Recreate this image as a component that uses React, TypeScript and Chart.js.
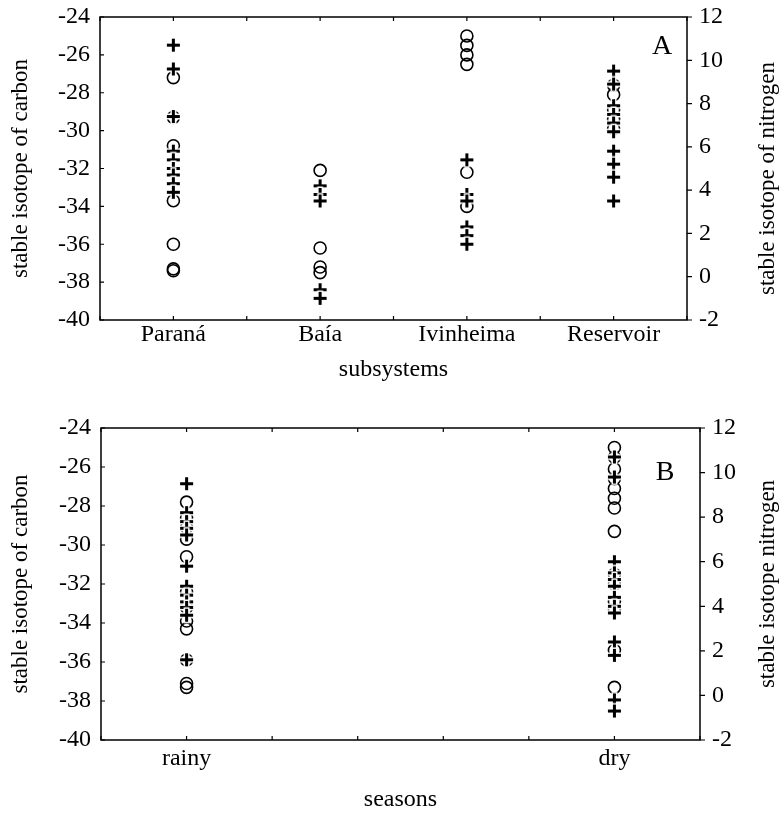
import React, { useEffect, useRef } from "react";
import { Chart, registerables } from "chart.js";

Chart.register(...registerables);

// ---------- Panel A: subsystems ----------
const subsystems = ["Paraná", "Baía", "Ivinheima", "Reservoir"];

// stable isotope of carbon (circles, left axis)
const paranaCarbon = [-27.2, -29.3, -30.8, -33.7, -36.0, -37.3, -37.4];
const baiaCarbon = [-32.1, -36.2, -37.2, -37.5];
const ivinheimaCarbon = [-25.0, -25.5, -26.0, -26.5, -32.2, -34.0];
const reservoirCarbon = [-27.6, -28.1, -28.9, -29.4, -29.9];

// stable isotope of nitrogen (crosses, right axis)
const paranaNitrogen = [10.7, 9.6, 7.4, 5.8, 5.4, 5.0, 4.7, 4.3, 3.9];
const baiaNitrogen = [4.2, 3.8, 3.5, -0.6, -1.0];
const ivinheimaNitrogen = [5.4, 3.8, 3.5, 2.3, 1.9, 1.5];
const reservoirNitrogen = [9.5, 8.9, 7.9, 7.5, 7.1, 6.7, 5.8, 5.2, 4.6, 3.5];

// ---------- Panel B: seasons ----------
const seasons = ["rainy", "dry"];

const rainyCarbon = [-27.8, -28.6, -29.1, -29.7, -30.6, -32.4, -33.2, -33.9, -34.3, -35.9, -37.1, -37.3];
const dryCarbon = [-25.0, -25.5, -26.1, -26.6, -27.1, -27.6, -28.1, -29.3, -31.5, -32.0, -32.9, -33.3, -35.4, -37.3];

const rainyNitrogen = [9.5, 8.2, 7.8, 7.5, 7.2, 5.8, 4.9, 4.5, 4.2, 3.95, 3.6, 1.6];
const dryNitrogen = [10.7, 9.8, 6.0, 5.5, 5.2, 4.9, 4.4, 4.0, 3.7, 2.4, 1.8, -0.2, -0.7];

// ---------- Axes ----------
const carbonAxis = { min: -40, max: -24, step: 2 };
const nitrogenAxis = { min: -2, max: 12, step: 2 };

const FONT = '"Liberation Serif", "Times New Roman", serif';
Chart.defaults.font.family = FONT;
Chart.defaults.color = "#000";

type PanelCfg = {
  categories: string[];
  slots: number[];
  xMax: number;
  carbon: number[][];
  nitrogen: number[][];
  xTitle: string;
  leftTitle: string;
  rightTitle: string;
  rightTitleDy: number;
  letter: string;
  height: number;
  padTop: number;
  leftWidth: number;
  rightWidth: number;
  xHeight: number;
  xTickPad: number;
  xTitlePad: number;
  letterDx: number;
  letterDy: number;
};

// "+" marker with a thin white halo, as in the original plotting software
function makeCrossMarker(): HTMLCanvasElement {
  const size = 19;
  const c = document.createElement("canvas");
  c.width = size;
  c.height = size;
  const g = c.getContext("2d")!;
  const m = size / 2;
  g.lineCap = "butt";
  g.strokeStyle = "#fff";
  g.lineWidth = 6;
  g.beginPath();
  g.moveTo(m - 8, m);
  g.lineTo(m + 8, m);
  g.moveTo(m, m - 8);
  g.lineTo(m, m + 8);
  g.stroke();
  g.strokeStyle = "#000";
  g.lineWidth = 3;
  g.beginPath();
  g.moveTo(m - 6.5, m);
  g.lineTo(m + 6.5, m);
  g.moveTo(m, m - 6.5);
  g.lineTo(m, m + 6.5);
  g.stroke();
  return c;
}

function framePlugin(cfg: PanelCfg) {
  return {
    id: "frameTicks",
    afterDraw(chart: any) {
      const { ctx, chartArea: a, scales } = chart;
      ctx.save();
      ctx.strokeStyle = "#000";
      ctx.lineWidth = 1.5;
      ctx.strokeRect(a.left, a.top, a.right - a.left, a.bottom - a.top);
      ctx.lineWidth = 1.2;
      ctx.beginPath();
      scales.x.ticks.forEach((t: any) => {
        const px = scales.x.getPixelForValue(t.value);
        ctx.moveTo(px, a.bottom);
        ctx.lineTo(px, a.bottom - 4);
        ctx.moveTo(px, a.top);
        ctx.lineTo(px, a.top + 4);
      });
      scales.yC.ticks.forEach((t: any) => {
        const py = scales.yC.getPixelForValue(t.value);
        ctx.moveTo(a.left, py);
        ctx.lineTo(a.left + 4, py);
      });
      scales.yN.ticks.forEach((t: any) => {
        const py = scales.yN.getPixelForValue(t.value);
        ctx.moveTo(a.right, py);
        ctx.lineTo(a.right + 5, py);
      });
      ctx.stroke();

      // right axis title (reads bottom to top)
      ctx.fillStyle = "#000";
      ctx.font = `23px ${FONT}`;
      ctx.textAlign = "center";
      ctx.textBaseline = "middle";
      ctx.translate(768, (a.top + a.bottom) / 2 + cfg.rightTitleDy);
      ctx.rotate(-Math.PI / 2);
      ctx.fillText(cfg.rightTitle, 0, 0);
      ctx.restore();

      ctx.save();
      ctx.fillStyle = "#000";
      ctx.font = `28px ${FONT}`;
      ctx.textAlign = "center";
      ctx.textBaseline = "alphabetic";
      ctx.fillText(cfg.letter, a.right - cfg.letterDx, a.top + cfg.letterDy);
      ctx.restore();
    },
  };
}

const hiddenTicks = (len: number) => ({
  display: true,
  drawOnChartArea: false,
  drawTicks: true,
  tickLength: len,
  color: "rgba(0,0,0,0)",
});

function Panel({ cfg }: { cfg: PanelCfg }) {
  const ref = useRef<HTMLCanvasElement | null>(null);
  useEffect(() => {
    if (!ref.current) return;
    const crossMarker = makeCrossMarker();
    const circles = cfg.categories.flatMap((_, i) =>
      cfg.carbon[i].map((v) => ({ x: cfg.slots[i], y: v }))
    );
    const crosses = cfg.categories.flatMap((_, i) =>
      cfg.nitrogen[i].map((v) => ({ x: cfg.slots[i], y: v }))
    );
    const chart = new Chart(ref.current, {
      type: "scatter",
      data: {
        datasets: [
          {
            label: "carbon",
            data: circles,
            yAxisID: "yC",
            order: 2,
            pointStyle: "circle",
            pointRadius: 6,
            pointBorderWidth: 1.6,
            borderColor: "#000",
            backgroundColor: "rgba(0,0,0,0)",
          },
          {
            label: "nitrogen",
            data: crosses,
            yAxisID: "yN",
            order: 1,
            pointStyle: crossMarker,
            pointRadius: 7,
            borderColor: "#000",
            backgroundColor: "#000",
          },
        ],
      },
      options: {
        animation: false,
        responsive: false,
        events: [],
        layout: { padding: { top: cfg.padTop, left: 0, right: 0, bottom: 0 } },
        plugins: { legend: { display: false }, tooltip: { enabled: false } },
        scales: {
          x: {
            type: "linear",
            min: 0,
            max: cfg.xMax,
            grid: { display: false, drawTicks: false },
            border: { display: false },
            ticks: {
              stepSize: 1,
              autoSkip: false,
              maxRotation: 0,
              padding: cfg.xTickPad,
              font: { size: 24, family: FONT },
              callback: (v: any) => {
                const i = cfg.slots.indexOf(Number(v));
                return i >= 0 ? cfg.categories[i] : "";
              },
            },
            title: {
              display: true,
              text: cfg.xTitle,
              font: { size: 24, family: FONT },
              padding: { top: cfg.xTitlePad, bottom: cfg.xTitlePad },
            },
            afterFit: (s: any) => {
              s.height = cfg.xHeight;
            },
          },
          yC: {
            type: "linear",
            position: "left",
            min: carbonAxis.min,
            max: carbonAxis.max,
            grid: hiddenTicks(8),
            border: { display: false },
            ticks: { stepSize: carbonAxis.step, padding: 2, font: { size: 24, family: FONT } },
            title: {
              display: true,
              text: cfg.leftTitle,
              font: { size: 23, family: FONT },
              padding: { top: 7, bottom: 7 },
            },
            afterFit: (s: any) => {
              s.width = cfg.leftWidth;
            },
          },
          yN: {
            type: "linear",
            position: "right",
            min: nitrogenAxis.min,
            max: nitrogenAxis.max,
            grid: hiddenTicks(10),
            border: { display: false },
            ticks: { stepSize: nitrogenAxis.step, padding: 2, font: { size: 24, family: FONT } },
            afterFit: (s: any) => {
              s.width = cfg.rightWidth;
            },
          },
        },
      },
      plugins: [framePlugin(cfg)],
    } as any);
    return () => chart.destroy();
  }, [cfg]);
  return (
    <canvas
      ref={ref}
      width={780}
      height={cfg.height}
      style={{ display: "block", width: 780, height: cfg.height }}
    />
  );
}

const panelA: PanelCfg = {
  categories: subsystems,
  slots: [1, 3, 5, 7],
  xMax: 8,
  carbon: [paranaCarbon, baiaCarbon, ivinheimaCarbon, reservoirCarbon],
  nitrogen: [paranaNitrogen, baiaNitrogen, ivinheimaNitrogen, reservoirNitrogen],
  xTitle: "subsystems",
  leftTitle: "stable isotope of carbon",
  rightTitle: "stable isotope of nitrogen",
  rightTitleDy: 10,
  letter: "A",
  height: 400,
  padTop: 17,
  leftWidth: 100,
  rightWidth: 93,
  xHeight: 80,
  xTickPad: 0,
  xTitlePad: 16,
  letterDx: 25,
  letterDy: 37,
};

const panelB: PanelCfg = {
  categories: seasons,
  slots: [1, 6],
  xMax: 7,
  carbon: [rainyCarbon, dryCarbon],
  nitrogen: [rainyNitrogen, dryNitrogen],
  xTitle: "seasons",
  leftTitle: "stable isotope of carbon",
  rightTitle: "stable isotope nitrogen",
  rightTitleDy: 0,
  letter: "B",
  height: 420,
  padTop: 28,
  leftWidth: 101,
  rightWidth: 80,
  xHeight: 80,
  xTickPad: 4,
  xTitlePad: 6,
  letterDx: 35,
  letterDy: 52,
};

export default function App() {
  return (
    <div style={{ position: "absolute", left: 0, top: 0, width: 780, height: 820, background: "#fff" }}>
      <Panel cfg={panelA} />
      <Panel cfg={panelB} />
    </div>
  );
}
